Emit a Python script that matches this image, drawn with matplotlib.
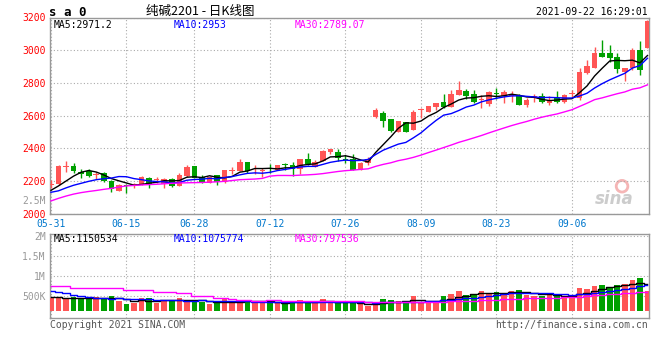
import numpy as np
import pandas as pd
import matplotlib
matplotlib.use("Agg")
import matplotlib.pyplot as plt

# ---------------- data ----------------
opens = [2174, 2180, 2286, 2292, 2257, 2261, 2237, 2249, 2200, 2141,
         2174, 2174, 2176, 2216, 2206, 2184, 2214, 2172, 2233, 2294,
         2227, 2190, 2235, 2192, 2261, 2263, 2314, 2265, 2263, 2276,
         2267, 2298, 2298, 2272, 2335, 2288, 2322, 2379, 2376, 2333,
         2335, 2267, 2312, 2592, 2614, 2579, 2498, 2559, 2512, 2633,
         2624, 2655, 2682, 2655, 2726, 2751, 2733, 2694, 2669, 2735,
         2722, 2722, 2726, 2665, 2706, 2720, 2675, 2710, 2681, 2731,
         2706, 2863, 2894, 2985, 2985, 2961, 2869, 2890, 3002, 3012]
highs = [2206, 2298, 2325, 2312, 2274, 2274, 2257, 2257, 2206, 2180,
         2180, 2188, 2229, 2225, 2225, 2218, 2220, 2247, 2298, 2294,
         2237, 2231, 2237, 2270, 2284, 2333, 2316, 2298, 2278, 2304,
         2298, 2312, 2314, 2337, 2369, 2329, 2391, 2396, 2396, 2359,
         2365, 2316, 2345, 2645, 2628, 2579, 2567, 2563, 2635, 2649,
         2661, 2679, 2733, 2757, 2812, 2761, 2757, 2726, 2751, 2767,
         2757, 2751, 2733, 2706, 2730, 2737, 2720, 2751, 2730, 2757,
         2890, 2941, 3018, 3063, 3032, 2981, 2894, 3012, 3057, 3185]
lows = [2155, 2176, 2257, 2247, 2220, 2225, 2212, 2196, 2135, 2141,
        2125, 2160, 2174, 2159, 2186, 2155, 2165, 2172, 2227, 2216,
        2186, 2188, 2176, 2190, 2243, 2261, 2247, 2243, 2227, 2247,
        2265, 2267, 2231, 2243, 2298, 2288, 2322, 2363, 2324, 2308,
        2267, 2265, 2300, 2584, 2533, 2498, 2498, 2498, 2512, 2584,
        2622, 2635, 2645, 2655, 2726, 2702, 2675, 2645, 2661, 2702,
        2675, 2682, 2665, 2655, 2681, 2675, 2665, 2675, 2677, 2716,
        2696, 2853, 2890, 2961, 2930, 2859, 2814, 2879, 2849, 3012]
closes = [2180, 2292, 2290, 2261, 2245, 2233, 2245, 2200, 2151, 2176,
          2167, 2178, 2225, 2184, 2208, 2214, 2172, 2237, 2286, 2220,
          2190, 2227, 2192, 2267, 2265, 2318, 2263, 2269, 2265, 2274,
          2298, 2296, 2272, 2335, 2304, 2318, 2384, 2396, 2343, 2331,
          2267, 2308, 2333, 2635, 2569, 2506, 2567, 2502, 2624, 2635,
          2659, 2675, 2655, 2730, 2757, 2720, 2686, 2698, 2747, 2733,
          2743, 2733, 2665, 2696, 2722, 2681, 2696, 2681, 2726, 2733,
          2865, 2904, 2985, 2961, 2955, 2883, 2894, 3002, 2879, 3180]
# volume, thousands (read against the panel's axis labels)
volumes_k = [450, 450, 450, 475, 450, 417, 467, 417, 492, 367,
             292, 325, 433, 433, 325, 392, 392, 433, 392, 350,
             350, 292, 308, 408, 325, 392, 375, 350, 350, 350,
             308, 292, 367, 392, 367, 308, 417, 350, 308, 308,
             308, 308, 242, 350, 417, 392, 367, 308, 492, 350,
             325, 325, 492, 542, 617, 517, 517, 617, 575, 600,
             533, 617, 642, 517, 492, 492, 517, 533, 475, 450,
             700, 667, 742, 767, 725, 767, 792, 892, 950, 617]

# moving-average values before enough history is visible
ma5_head = [2143, 2170, 2200, 2230]
ma10_head = [2131, 2140, 2158, 2174, 2186, 2198, 2208, 2214, 2218]
ma30_head = [2078, 2094, 2108, 2120, 2129, 2136, 2142, 2149, 2155, 2163,
             2170, 2173, 2176, 2178, 2180, 2183, 2186, 2188, 2189, 2190,
             2191, 2193, 2195, 2198, 2203, 2208, 2210, 2212, 2216]
vma5_head_k = [475, 462, 455, 450]
vma10_head_k = [617, 583, 558, 525, 500, 467, 445, 435, 430]
vma30_head_k = [742, 742, 742, 692, 692, 692, 692, 692, 692, 692,
                642, 642, 642, 642, 592, 592, 592, 558, 558, 492,
                492, 492, 433, 433, 408, 392, 392, 375, 375]

date_idx = [0, 10, 19, 29, 39, 49, 59, 69]
date_labels = ["05-31", "06-15", "06-28", "07-12", "07-26", "08-09", "08-23", "09-06"]
price_ticks = [2000, 2200, 2400, 2600, 2800, 3000, 3200]
vol_ticks = [500000, 1000000, 1500000, 2000000]
vol_tick_labels = ["500K", "1M", "1.5M", "2M"]

title = "纯碱2201 - 日K线图"
code = "s a 0"
stamp = "2021-09-22 16:29:01"
ma_main_labels = ["MA5:2971.2", "MA10:2953", "MA30:2789.07"]
ma_vol_labels = ["MA5:1150534", "MA10:1075774", "MA30:797536"]

# ---------------- derived ----------------
o = np.array(opens, float); h = np.array(highs, float)
l = np.array(lows, float); c = np.array(closes, float)
v = np.array(volumes_k, float) * 1000
x = np.arange(len(c))

def ma(series, n, head):
    r = pd.Series(series).rolling(n).mean().to_numpy()[n - 1:]
    return np.concatenate([np.array(head, float), r])

ma5 = ma(c, 5, ma5_head)
ma10 = ma(c, 10, ma10_head)
ma30 = ma(c, 30, ma30_head)
vma5 = ma(v, 5, np.array(vma5_head_k) * 1000)
vma10 = ma(v, 10, np.array(vma10_head_k) * 1000)
vma30 = ma(v, 30, np.array(vma30_head_k) * 1000)

RED = "#ff5555"
GREEN = "#00a000"
up = c >= o
cols = np.where(up, RED, GREEN)

W, H = 660, 360
fig = plt.figure(figsize=(6.6, 3.6), dpi=100)
fig.patch.set_facecolor("white")
MONO = "DejaVu Sans Mono"
GRID = "#aaaaaa"
SPINE = "#999999"

def fx(px):
    return px / W

def fy(py):
    return 1 - py / H

# main panel
ax = fig.add_axes([fx(50), fy(213.7), fx(649) - fx(50), fy(17.5) - fy(213.7)])
ax.set_xlim(-0.13, 79.2)
ax.set_ylim(2000, 3200)
ax.vlines(x, l, h, colors=cols, linewidth=1, zorder=3)
body_h = np.maximum(np.abs(c - o), 5)
ax.bar(x, body_h, bottom=np.minimum(o, c), width=0.74, color=cols, zorder=4, linewidth=0)
ax.plot(x, ma5, color="black", lw=1, zorder=5)
ax.plot(x, ma10, color="#0000ff", lw=1, zorder=5)
ax.plot(x, ma30, color="#ff00ff", lw=1, zorder=5)

ax.set_yticks(price_ticks)
ax.set_yticklabels([str(t) for t in price_ticks], color="#ff0000", fontsize=7, family=MONO)
ax.set_xticks(date_idx)
ax.set_xticklabels(date_labels, color="#0077cc", fontsize=7, family=MONO)
ax.tick_params(axis="both", length=0)
ax.tick_params(axis="y", pad=3)
ax.tick_params(axis="x", pad=4)
ax.grid(True, color=GRID, linestyle=(0, (1, 2)), linewidth=0.8, zorder=0)
for s in ax.spines.values():
    s.set_color(SPINE)
    s.set_linewidth(1)

# watermark
ax.text(0.975, 0.03, "sina", transform=ax.transAxes, ha="right", va="bottom",
        fontsize=12, color="#cccccc", fontweight="bold", style="italic", zorder=1)
ax.scatter([0.955], [0.14], transform=ax.transAxes, s=70, facecolor="none",
           edgecolor="#f5b5b5", linewidth=2, zorder=1)

# volume panel
base = 125000
av = fig.add_axes([fx(50), fy(318), fx(649) - fx(50), fy(234) - fy(318)])
av.set_xlim(-0.13, 79.2)
av.set_ylim(-57500, 2043000)
av.bar(x, v - base, bottom=base, width=0.74, color=cols, linewidth=0, zorder=3)
av.plot(x, vma5, color="black", lw=1, drawstyle="steps-mid", zorder=5)
av.plot(x, vma10, color="#0000ff", lw=1, drawstyle="steps-mid", zorder=5)
av.plot(x, vma30, color="#ff00ff", lw=1, drawstyle="steps-mid", zorder=5)
av.set_yticks(vol_ticks)
av.set_yticklabels(vol_tick_labels, color="#999999", fontsize=7, family=MONO)
av.set_xticks(date_idx)
av.set_xticklabels([])
av.tick_params(axis="both", length=0)
av.tick_params(axis="y", pad=3)
av.grid(True, color=GRID, linestyle=(0, (1, 2)), linewidth=0.8, zorder=0)
for s in av.spines.values():
    s.set_color(SPINE)
    s.set_linewidth(1)

# texts
fig.text(fx(49), fy(12), code, fontsize=9, fontweight="bold", family=MONO, va="center", ha="left")
fig.text(fx(200), fy(11), title, fontsize=9, family=["Noto Sans CJK SC", "DejaVu Sans"],
         va="center", ha="center")
fig.text(fx(648), fy(12), stamp, fontsize=7, family=MONO, va="center", ha="right")
fig.text(fx(46), fy(201), "2.5M", fontsize=7, family=MONO, va="center", ha="right", color="#999999")

ma_cols = ["black", "#0000ff", "#ff00ff"]
ma_x = [54, 174, 295]
for lab, col, px in zip(ma_main_labels, ma_cols, ma_x):
    fig.text(fx(px), fy(24.5), lab, fontsize=7, family=MONO, color=col, va="center", ha="left")
for lab, col, px in zip(ma_vol_labels, ma_cols, ma_x):
    fig.text(fx(px), fy(239), lab, fontsize=7, family=MONO, color=col, va="center", ha="left")

fig.text(fx(50), fy(325), "Copyright 2021 SINA.COM", fontsize=7, family=MONO,
         color="#555555", va="center", ha="left")
fig.text(fx(648), fy(325), "http://finance.sina.com.cn", fontsize=7, family=MONO,
         color="#555555", va="center", ha="right")

fig.savefig("out.png", dpi=100)
